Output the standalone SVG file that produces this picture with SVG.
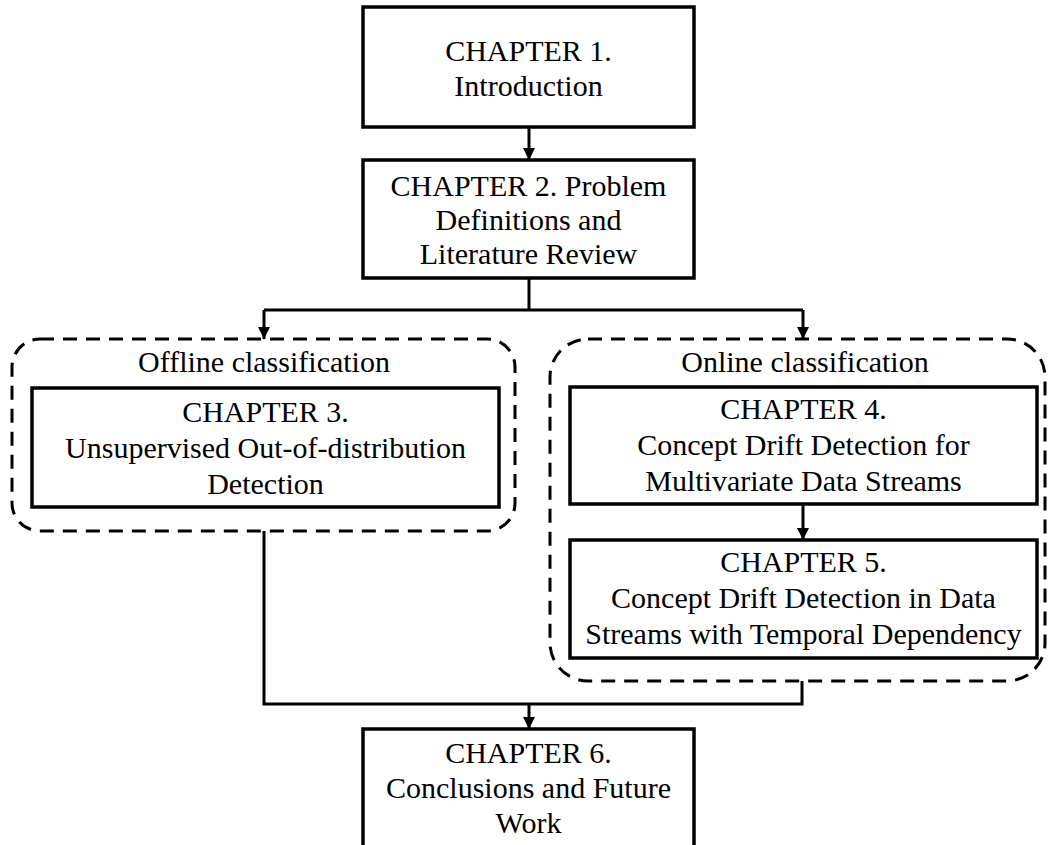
<svg xmlns="http://www.w3.org/2000/svg" width="1048" height="845" viewBox="0 0 1048 845">
<style>
.box{fill:#fff;stroke:#000;stroke-width:3.5}
.grp{fill:none;stroke:#000;stroke-width:3;stroke-dasharray:14 9}
.t{font-family:"Liberation Serif","Times New Roman",serif;font-size:30px;fill:#000;text-anchor:middle}
.c{fill:none;stroke:#000;stroke-width:3}
</style>
<defs>
<marker id="ah" markerUnits="userSpaceOnUse" markerWidth="12" markerHeight="12" viewBox="0 0 12 12" refX="12" refY="6" orient="auto">
<path d="M0,0 L12,6 L0,12 Z" fill="#000"/>
</marker>
</defs>
<rect width="1048" height="845" fill="#fff"/>
<g id="offline-group">
<rect class="grp" x="12" y="339" width="503" height="192" rx="28" ry="28"/>
<text class="t" x="264" y="372">Offline classification</text>
</g>
<g id="online-group">
<rect class="grp" x="550" y="339" width="495" height="342" rx="38" ry="38"/>
<text class="t" x="805" y="372">Online classification</text>
</g>
<g id="ch1">
<rect class="box" x="363" y="7" width="331" height="120"/>
<text class="t" x="528.5" y="61">CHAPTER 1.</text>
<text class="t" x="528.5" y="96">Introduction</text>
</g>
<g id="ch2">
<rect class="box" x="363" y="160" width="331" height="118"/>
<text class="t" x="528.5" y="196">CHAPTER 2. Problem</text>
<text class="t" x="528.5" y="230">Definitions and</text>
<text class="t" x="528.5" y="264">Literature Review</text>
</g>
<g id="ch3">
<rect class="box" x="32" y="388" width="467" height="119"/>
<text class="t" x="265.5" y="422">CHAPTER 3.</text>
<text class="t" x="265.5" y="458">Unsupervised Out-of-distribution</text>
<text class="t" x="265.5" y="494">Detection</text>
</g>
<g id="ch4">
<rect class="box" x="570" y="387" width="467" height="117"/>
<text class="t" x="803.5" y="419">CHAPTER 4.</text>
<text class="t" x="803.5" y="455">Concept Drift Detection for</text>
<text class="t" x="803.5" y="491">Multivariate Data Streams</text>
</g>
<g id="ch5">
<rect class="box" x="570" y="540" width="467" height="118"/>
<text class="t" x="803.5" y="572">CHAPTER 5.</text>
<text class="t" x="803.5" y="608">Concept Drift Detection in Data</text>
<text class="t" x="803.5" y="644">Streams with Temporal Dependency</text>
</g>
<g id="ch6">
<rect class="box" x="363" y="729" width="331" height="130"/>
<text class="t" x="528.5" y="763">CHAPTER 6.</text>
<text class="t" x="528.5" y="798">Conclusions and Future</text>
<text class="t" x="528.5" y="833">Work</text>
</g>
<g id="connectors">
<path class="c" d="M529,127 V160" marker-end="url(#ah)"/>
<path class="c" d="M529,278 V310"/>
<path class="c" d="M264,310 H803"/>
<path class="c" d="M264,310 V339" marker-end="url(#ah)"/>
<path class="c" d="M803,310 V339" marker-end="url(#ah)"/>
<path class="c" d="M803,504 V540" marker-end="url(#ah)"/>
<path class="c" d="M264,531 V704 H802 V681"/>
<path class="c" d="M529,704 V729" marker-end="url(#ah)"/>
</g>
</svg>
